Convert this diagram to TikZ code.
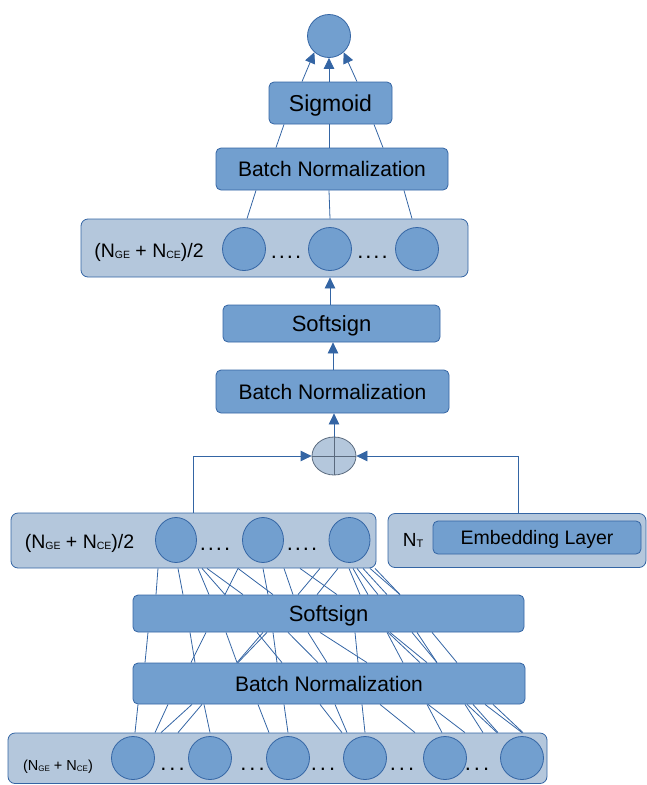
\documentclass[tikz,border=0pt]{standalone}
\usepackage{fontspec}
\setmainfont{Liberation Sans}
\usetikzlibrary{arrows.meta,shapes.geometric}

\definecolor{boxblue}{HTML}{729FCF}
\definecolor{paleblue}{HTML}{B4C7DC}
\definecolor{edgeblue}{HTML}{3465A4}
\definecolor{sumgray}{HTML}{5A6A7E}

% font size helper, lowered small subscripts and spaced dot runs
\newcommand\fsz[1]{\fontsize{#1}{#1}\selectfont}
\newcommand\lowsub[2]{\raisebox{-1pt}{\fsz{#1}#2}}
\newcommand\dotsfour{.\hspace{2pt}.\hspace{2pt}.\hspace{2pt}.}
\newcommand\dotsthree{.\hspace{3pt}.\hspace{3pt}.}

\begin{document}
\begin{tikzpicture}[x=1pt,y=-1pt,
  darkbox/.style={draw=edgeblue, fill=boxblue, rounded corners=5pt, line width=0.8pt, inner sep=0pt, text depth=0pt},
  palebox/.style={draw=edgeblue, fill=paleblue, rounded corners=7pt, line width=0.8pt, inner sep=0pt},
  neuron/.style={circle, draw=edgeblue, fill=boxblue, line width=0.8pt, minimum size=43pt, inner sep=0pt},
  tallneuron/.style={ellipse, draw=edgeblue, fill=boxblue, line width=0.8pt, minimum width=41pt, minimum height=45pt, inner sep=0pt},
  link/.style={draw=edgeblue, line width=0.8pt},
  arrowlink/.style={link, -{Triangle[length=11pt,width=10.5pt]}},
  txt/.style={inner sep=0pt, anchor=base}]
\useasboundingbox (0,0) rectangle (647,785);

% ---- output neuron and top block ----
\node[neuron] (out) at (329,36) {};
\node[darkbox, minimum width=123pt, minimum height=42pt, font=\fsz{23}] (sig) at (330.5,103) {Sigmoid};
\node[darkbox, minimum width=232pt, minimum height=42pt, font=\fsz{21}] (bnc) at (332,169) {Batch Normalization};

% second hidden layer
\node[palebox, minimum width=387pt, minimum height=58pt] (hid2) at (274.5,248) {};
\node[neuron] (h2a) at (244,249) {};
\node[neuron] (h2b) at (330,249) {};
\node[neuron] (h2c) at (417,249) {};
\node[txt, font=\fsz{19.5}] (h2lab) at (149,257.5) {(N\lowsub{10.5}{GE} + N\lowsub{10.5}{CE})/2};
\node[txt, font=\fsz{22}] (h2d1) at (286,258) {\dotsfour};
\node[txt, font=\fsz{22}] (h2d2) at (372.5,258) {\dotsfour};

\node[darkbox, minimum width=217pt, minimum height=37pt, font=\fsz{22}] (sfb) at (331.5,323.5) {Softsign};
\node[darkbox, minimum width=233pt, minimum height=43pt, font=\fsz{21}] (bnb) at (332.5,391.5) {Batch Normalization};

% merge point
\node[ellipse, draw=sumgray, fill=paleblue, line width=0.8pt, minimum width=44pt, minimum height=38pt, inner sep=0pt] (sum) at (334,456) {};
\draw[sumgray, line width=0.8pt] (sum.north) -- (sum.south) (sum.west) -- (sum.east);

% first hidden layer
\node[palebox, minimum width=365pt, minimum height=55pt] (hid1) at (193.5,540.5) {};
\node[tallneuron] (h1a) at (176,540) {};
\node[tallneuron] (h1b) at (263,540) {};
\node[tallneuron] (h1c) at (349.5,540) {};
\node[txt, font=\fsz{19.5}] (h1lab) at (79.5,548.5) {(N\lowsub{10.5}{GE} + N\lowsub{10.5}{CE})/2};
\node[txt, font=\fsz{22}] (h1d1) at (215,550) {\dotsfour};
\node[txt, font=\fsz{22}] (h1d2) at (302,550) {\dotsfour};

% embedding branch
\node[palebox, minimum width=258pt, minimum height=54pt] (emb) at (517,540.5) {};
\node[darkbox, minimum width=208pt, minimum height=33pt, font=\fsz{19.5}] (embl) at (537,537.5) {Embedding Layer};
\node[txt, font=\fsz{19}] (nt) at (413,546) {N\lowsub{11}{T}};

% lower block
\node[darkbox, minimum width=391pt, minimum height=37pt, font=\fsz{22}] (sfa) at (328.5,613.5) {Softsign};
\node[darkbox, minimum width=392pt, minimum height=41pt, font=\fsz{21}] (bna) at (329,683.5) {Batch Normalization};

% input layer
\node[palebox, minimum width=539pt, minimum height=50.5pt] (inp) at (277.5,758.25) {};
\node[neuron] (i1) at (133,758) {};
\node[neuron] (i2) at (210,758) {};
\node[neuron] (i3) at (288,758) {};
\node[neuron] (i4) at (365,758) {};
\node[neuron] (i5) at (445,758) {};
\node[neuron] (i6) at (522,758) {};
\node[txt, font=\fsz{14.5}] (inlab) at (58,770) {(N\lowsub{8}{GE} + N\lowsub{8}{CE})};
\foreach \x [count=\k] in {172.5,252.5,323,402,477}
  \node[txt, font=\fsz{22}] (id\k) at (\x,770) {\dotsthree};

% ---- connectors ----
\draw[arrowlink] (sig.north -| 302,0) -- (out.-132);
\draw[arrowlink] (sig.north -| 329,0) -- (out.south);
\draw[arrowlink] (sig.north -| 357,0) -- (out.-48);

\foreach \a/\b in {276/284, 329/329, 383/374}
  \draw[link] (bnc.north -| \a,0) -- (sig.south -| \b,0);
\foreach \a/\b in {247/256, 330/329, 412/404}
  \draw[link] (hid2.north -| \a,0) -- (bnc.south -| \b,0);

\draw[arrowlink] (sfb.north -| 330,0) -- (hid2.south -| 330,0);
\draw[arrowlink] (bnb.north -| 333,0) -- (sfb.south -| 333,0);
\draw[arrowlink] (sum.north) -- (bnb.south -| sum.north);

\draw[arrowlink] (hid1.north -| 193.5,0) |- (sum.west);
\draw[arrowlink] (emb.north -| 518.5,0) |- (sum.east);

% dense links: hidden layer 1 <- softsign
\foreach \a/\b in {158/156, 178/183, 198/209, 202/225, 207/243, 238/225, 238/273,
                   263/268, 284/293, 300/337, 320/298, 338/317, 349/360, 353/368,
                   357/378, 363/387, 370/400, 375/400}
  \draw[link] (hid1.south -| \a,0) -- (sfa.north -| \b,0);

% dense links: softsign <- batch normalization
\foreach \a/\b in {148/145, 190/195, 206/191, 226/237, 257/282, 263/237, 267/238,
                   273/277, 288/318, 308/327, 320/367, 355/358, 387/403, 388/420,
                   390/427, 412/437, 417/437, 432/457}
  \draw[link] (sfa.south -| \a,0) -- (bna.north -| \b,0);

% dense links: batch normalization <- input layer
\foreach \a/\b in {138/135, 168/155, 192/161, 202/178, 204/210, 258/269, 284/288,
                   320/342, 335/347, 362/365, 380/415, 427/442, 428/465, 465/483,
                   467/497, 473/498, 485/522, 493/523}
  \draw[link] (bna.south -| \a,0) -- (inp.north -| \b,0);
\end{tikzpicture}
\end{document}
